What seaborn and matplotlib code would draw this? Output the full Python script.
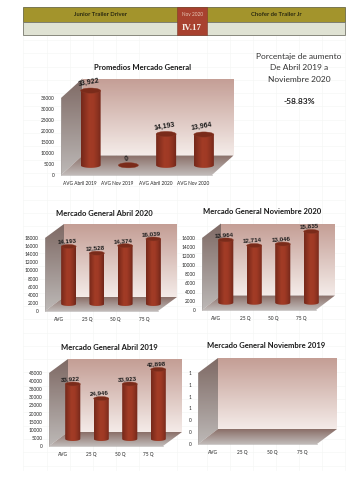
import numpy as np
import pandas as pd
import matplotlib
matplotlib.use("Agg")
import matplotlib.pyplot as plt
import seaborn as sns
from matplotlib.colors import LinearSegmentedColormap
from matplotlib.patches import Ellipse, Polygon, Rectangle
from matplotlib.path import Path
from matplotlib.transforms import Affine2D

W, H = 360, 480

sns.set_theme(style="white")
plt.rcParams["font.family"] = ["Lato", "DejaVu Sans"]

# data
cats_prom = ["AVG Abril 2019", "AVG Nov 2019", "AVG Abril 2020", "AVG Nov 2020"]
vals_prom = [33922, 0, 14193, 13964]
cats_q = ["AVG", "25 Q", "50 Q", "75 Q"]
vals_abr20 = [14193, 12528, 14374, 16039]
vals_nov20 = [13964, 12714, 13046, 15835]
vals_abr19 = [33922, 24946, 33923, 42898]
vals_nov19 = [np.nan, np.nan, np.nan, np.nan]

ticks_prom = [0, 5000, 10000, 15000, 20000, 25000, 30000, 35000]
ticks_abr20 = [0, 2000, 4000, 6000, 8000, 10000, 12000, 14000, 16000, 18000]
ticks_nov20 = [0, 2000, 4000, 6000, 8000, 10000, 12000, 14000, 16000]
ticks_abr19 = [0, 5000, 10000, 15000, 20000, 25000, 30000, 35000, 40000, 45000]
ticks_nov19 = [0, 0.2, 0.4, 0.6, 0.8, 1.0, 1.2]

bar_cmap = LinearSegmentedColormap.from_list(
    "bar", ["#74281a", "#8c3220", "#a23c26", "#a03a25", "#8c3220", "#70261a"])
back_cmap = LinearSegmentedColormap.from_list("back", ["#c49e95", "#f4ebe8"])
side_cmap = LinearSegmentedColormap.from_list("side", ["#7f6a65", "#bcb8b6"])
floor_cmap = LinearSegmentedColormap.from_list("floor", ["#8a6f68", "#c0bab8"])

fig = plt.figure(figsize=(W / 100, H / 100), dpi=100)
page = fig.add_axes([0, 0, 1, 1])
page.set_xlim(0, W)
page.set_ylim(H, 0)
page.axis("off")

# spreadsheet grid behind everything
for gx in [23, 46.5, 69.5, 92.5, 115.5, 138.5, 177, 207, 230, 253, 276, 298.5, 321.5, 345]:
    page.plot([gx, gx], [36, 470], color="#f5f7f5", lw=0.5, zorder=0)
for gy in np.arange(40, 470, 13.3):
    page.plot([23, 345], [gy, gy], color="#f5f7f5", lw=0.5, zorder=0)

# header band
page.add_patch(Rectangle((23, 7), 322, 15, fc="#a3942c", ec="#6b6a45", lw=0.6, zorder=1))
page.add_patch(Rectangle((23, 22), 322, 13, fc="#dfe2d3", ec="#77786c", lw=0.6, zorder=1))
page.add_patch(Rectangle((177, 7), 30, 28, fc="#a8412f", ec="#7c3a2a", lw=0.4, zorder=2))
page.text(100, 14.5, "Junior Trailer Driver", ha="center", va="center", fontsize=4.2,
          fontweight="bold", color="#2b2a10", zorder=3)
page.text(276, 14.5, "Chofer de Trailer Jr", ha="center", va="center", fontsize=4.2,
          fontweight="bold", color="#2b2a10", zorder=3)
page.text(192, 14.5, "Nov 2020", ha="center", va="center", fontsize=3.4, color="#e6c8b8", zorder=3)
page.text(192, 28, "IV.17", ha="center", va="center", fontsize=6.5, fontweight="bold",
          family=["Liberation Serif", "DejaVu Serif"], color="#f5ece4", zorder=3)

# percent note
for txt, ty in zip(["Porcentaje de aumento", "De Abril 2019 a", "Noviembre 2020"], [57, 68, 79]):
    page.text(299, ty, txt, ha="center", va="center", fontsize=6, color="#333333")
page.text(299, 102, "-58.83%", ha="center", va="center", fontsize=6, fontweight="bold", color="#222222")


def shade(poly, cmap, x0, x1, y0, y1):
    pg = Polygon(poly, closed=True, transform=page.transData, fc="none", ec="none")
    page.add_patch(pg)
    im = page.imshow(np.linspace(0, 1, 64).reshape(-1, 1), extent=(x0, x1, y1, y0), cmap=cmap,
                     aspect="auto", zorder=1)
    im.set_clip_path(pg)


def panel(box, depth, cats, vals, ticks, title, title_xy, lab_size, lab_rot, fmt="%d"):
    left, top, right, bottom = box
    dx, dy = depth  # dy counted upward on the page

    # walls of the box, drawn on the page
    shade([(left + dx, top - dy), (right + dx, top - dy), (right + dx, bottom - dy), (left + dx, bottom - dy)],
          back_cmap, left + dx, right + dx, top - dy, bottom - dy)
    shade([(left, top), (left + dx, top - dy), (left + dx, bottom - dy), (left, bottom)],
          side_cmap, left, left + dx, top - dy, bottom)
    shade([(left, bottom), (right, bottom), (right + dx, bottom - dy), (left + dx, bottom - dy)],
          floor_cmap, left, right + dx, bottom - dy, bottom)
    page.set_xlim(0, W)
    page.set_ylim(H, 0)

    page.text(title_xy[0], title_xy[1], title, ha="center", va="center", fontsize=5.5,
              fontweight="bold", color="#1a1a1a")

    ax = fig.add_axes([left / W, 1 - bottom / H, (right - left) / W, (bottom - top) / H])
    ax.patch.set_alpha(0)
    df = pd.DataFrame({"cat": cats, "val": vals})
    sns.barplot(data=df, x="cat", y="val", order=cats, width=0.53, color="#a03a25", ax=ax)
    ymax = ticks[-1]
    ax.set_xlim(-0.5, len(cats) - 0.5)
    ax.set_ylim(0, ymax)
    ax.set_xlabel("")
    ax.set_ylabel("")
    ax.set_xticks(range(len(cats)))
    ax.set_xticklabels(cats)
    ax.set_yticks(ticks)
    ax.set_yticklabels([fmt % t for t in ticks])
    ax.tick_params(axis="both", labelsize=3.4, length=1.5, width=0.3, pad=3, colors="#222222")
    for sp in ["top", "right"]:
        ax.spines[sp].set_visible(False)
    for sp in ["left", "bottom"]:
        ax.spines[sp].set_color("#a8a2a0")
        ax.spines[sp].set_linewidth(0.4)

    # bars stand halfway into the box depth
    shift = ax.transData + Affine2D().translate(dx / 2, dy / 2)
    px_x = (right - left) / len(cats)
    px_y = (bottom - top) / ymax
    bars = [p for p in ax.patches if np.isfinite(p.get_height())]
    for i, p in enumerate(bars):
        p.set_visible(False)
        x0, bw, h = p.get_x(), p.get_width(), p.get_height()
        cx = x0 + bw / 2
        eh = 0.26 * bw * px_x / px_y
        if h > 0:
            t = np.linspace(np.pi, 2 * np.pi, 30)
            xs = np.r_[cx + bw / 2 * np.cos(t), x0 + bw, x0]
            ys = np.r_[eh / 2 * np.sin(t), h, h]
            im = ax.imshow(np.linspace(0, 1, 64).reshape(1, -1), extent=(x0, x0 + bw, -eh, h), cmap=bar_cmap,
                           aspect="auto", zorder=4, transform=shift)
            im.set_clip_box(fig.bbox)
            im.set_clip_path(Path(np.c_[xs, ys]), shift)
        ax.add_patch(Ellipse((cx, h), bw, eh, fc="#7a2b1a", ec="#8a3825", lw=0.3,
                             transform=shift, zorder=5, clip_on=False))
        ax.text(cx, h + eh / 2, format(int(h), ","), ha="center", va="bottom",
                fontsize=lab_size, fontweight="bold", rotation=lab_rot,
                family=["Liberation Sans", "DejaVu Sans"], color="#1c1c1c",
                transform=shift + Affine2D().translate(-2, 0), zorder=6, clip_on=False)
    ax.set_xlim(-0.5, len(cats) - 0.5)
    ax.set_ylim(0, ymax)
    return ax


panel((61, 98, 212, 175), (21.5, 19.5), cats_prom, vals_prom, ticks_prom,
      "Promedios Mercado General", (143, 68), 5, 10)
panel((45, 238, 158, 311), (19, 14), cats_q, vals_abr20, ticks_abr20,
      "Mercado General Abril 2020", (104, 213), 4.5, 4)
panel((202, 238, 316, 310), (19, 14.5), cats_q, vals_nov20, ticks_nov20,
      "Mercado General Noviembre 2020", (262, 212), 4.5, 4)
panel((49, 373, 163, 446), (19, 14), cats_q, vals_abr19, ticks_abr19,
      "Mercado General Abril 2019", (109, 348), 4.5, 4)
panel((198, 373, 317, 444), (20, 15), cats_q, vals_nov19, ticks_nov19,
      "Mercado General Noviembre 2019", (266, 346), 4.5, 4, fmt="%.0f")

fig.savefig("out.png", dpi=100)
